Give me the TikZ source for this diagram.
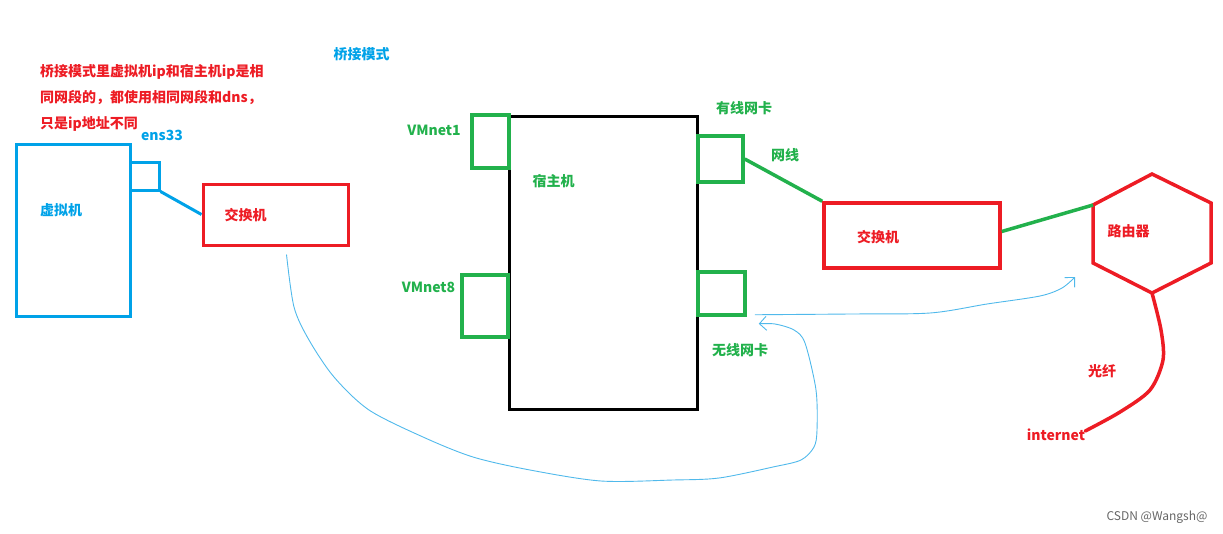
\documentclass[tikz,border=0pt]{standalone}
\usepackage{fontspec}
\setmainfont{Noto Sans CJK SC}
\usetikzlibrary{calc,arrows.meta}
\definecolor{pblue}{RGB}{0,162,232}
\definecolor{pred}{RGB}{237,28,36}
\definecolor{pgreen}{RGB}{34,177,76}
\definecolor{hblue}{RGB}{80,185,235}
\tikzset{
	box/.style={draw, line width=3pt, inner sep=0pt},
	lbl/.style={font=\bfseries\fontsize{14}{26}\selectfont, inner sep=0pt},
	hand/.style={hblue, line width=0.9pt, line join=round, -{Straight Barb[length=7pt]}},
}

\begin{document}
\begin{tikzpicture}[x=1pt, y=-1pt]
	\useasboundingbox (0,0) rectangle (1223,533);
% 说明
	\node[lbl, pred, align=left, anchor=west] (note) at (40,98) {桥接模式里虚拟机ip和宿主机ip是相\\同网段的，都使用相同网段和dns，\\只是ip地址不同};
	\node[lbl, pblue] (title) at (361.5,54) {桥接模式};
% 虚拟机
	\node[box, pblue, minimum width=114, minimum height=172] (vm) at (73,230) {};
	\node[box, pblue, minimum width=29, minimum height=28] (ens) at (144.5,176) {};
	\node[lbl, pblue] (vm-t) at (61,210) {虚拟机};
	\node[lbl, pblue] (ens-t) at (162,135) {ens33};
	\node[box, pred, minimum width=145, minimum height=61] (sw1) at (275.5,214.5) {};
	\node[lbl, pred] (sw1-t) at (245.5,215) {交换机};
	\draw[pblue, line width=3pt] (ens.south east) -- (sw1.west); %
% 宿主机
	\node[box, black, minimum width=188, minimum height=293] (host) at (603,262.5) {};
	\node[lbl, pgreen] (host-t) at (553.5,181) {宿主机};
	\node[box, pgreen, line width=3.5pt, minimum width=37, minimum height=53] (vmnet1) at (490.5,141.5) {};
	\node[box, pgreen, line width=3.5pt, minimum width=46, minimum height=62] (vmnet8) at (485,306) {};
	\node[box, pgreen, line width=3.5pt, minimum width=45, minimum height=46] (wired) at (720.5,159) {};
	\node[box, pgreen, line width=3.5pt, minimum width=47, minimum height=43] (wless) at (721.5,293.5) {};
	\node[lbl, pgreen] (vmnet1-t) at (434,130) {VMnet1};
	\node[lbl, pgreen] (vmnet8-t) at (428.5,287) {VMnet8};
	\node[lbl, pgreen] (wired-t) at (744,108) {有线网卡};
	\node[lbl, pgreen] (wless-t) at (740,350) {无线网卡};
% 交换机
	\node[box, pred, line width=3.5pt, minimum width=176, minimum height=65] (sw2) at (912,235.5) {};
	\node[lbl, pred] (sw2-t) at (878,237) {交换机};
	\draw[pgreen, line width=3.5pt] (wired.east) -- (sw2.north west); %网线
	\node[lbl, pgreen] (cable-t) at (785,155) {网线};
% 路由器
	\coordinate (rt-t) at (1152,174);
	\coordinate (rt-ur) at (1211,203);
	\coordinate (rt-lr) at (1211,263);
	\coordinate (rt-b) at (1152,293);
	\coordinate (rt-ll) at (1093,263);
	\coordinate (rt-ul) at (1093,205);
	\draw[pred, line width=3.5pt] (rt-t) -- (rt-ur) -- (rt-lr) -- (rt-b) -- (rt-ll) -- (rt-ul) -- cycle;
	\node[lbl, pred] (rt) at (1128.5,231) {路由器};
	\draw[pgreen, line width=3.5pt] ($(sw2.east)+(0,-4)$) -- (rt-ul);
% 光纤
	\node[lbl, pred] (inet) at (1056,435) {internet};
	\node[lbl, pred] (fiber-t) at (1102,371) {光纤};
	\draw[pred, line width=3.5pt, line cap=round] plot[smooth] coordinates {(rt-b) (1161,330) (1163,360) (1150,390) (1120,412) ($(inet.east)+(0,-4)$)};
% 手绘箭头
	\coordinate (sw1-out) at ($(sw1.south)+(11,8)$);
	\coordinate (wl-in) at ($(wless.south east)+(12,7)$);
	\draw[hand] plot[smooth] coordinates {(sw1-out) (294,307) (309,340) (334,377) (369,410) (423,437) (473,457) (530,470) (601,481) (673,480) (719,478) (773,467) (801,460) (814,447) (817,430) (816,390) (805,343) (794,330) (775,324) (wl-in)};
	\coordinate (wl-out) at ($(wless.south east)+(8,-2)$);
	\coordinate (rt-in) at ($(rt-ll)+(-18,14)$);
	\draw[hand] plot[smooth] coordinates {(wl-out) (850,314) (930,313) (987,304) (1040,296) (1062,288) (rt-in)};
% 水印
	\node[font=\fontsize{12}{14}\selectfont, black!60] (wm) at (1157,517) {CSDN @Wangsh@};
\end{tikzpicture}
\end{document}
